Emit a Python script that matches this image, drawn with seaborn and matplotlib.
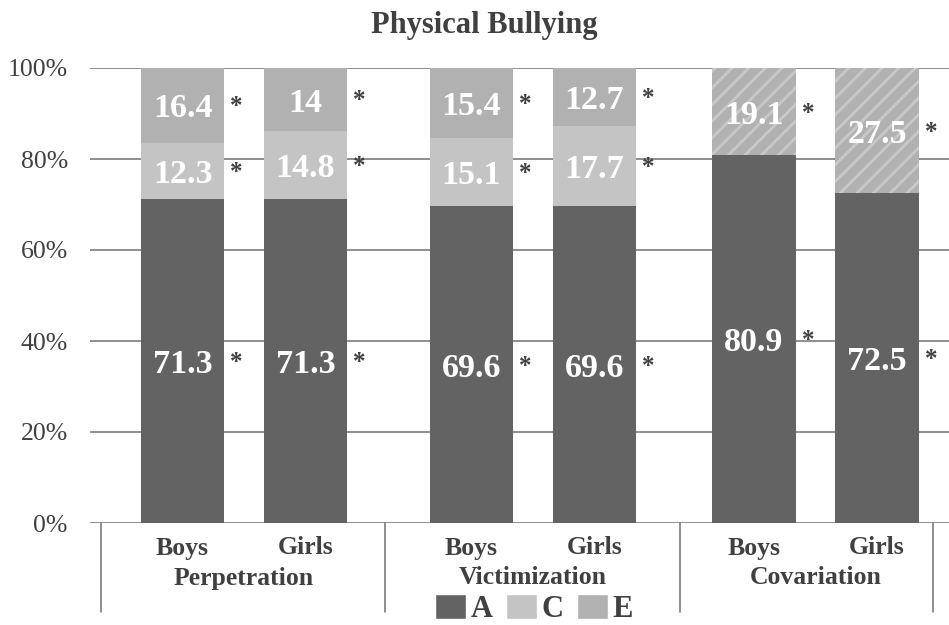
import numpy as np
import pandas as pd
import matplotlib
matplotlib.use("Agg")
import matplotlib.pyplot as plt
from matplotlib.patches import Patch
import seaborn as sns

# Variance components (%) for each group / sex
groups = ["Perpetration", "Victimization", "Covariation"]
sexes = ["Boys", "Girls"]
comp_a = [71.3, 71.3, 69.6, 69.6, 80.9, 72.5]
comp_c = [12.3, 14.8, 15.1, 17.7, 0.0, 0.0]
comp_e = [16.4, 14.0, 15.4, 12.7, 19.1, 27.5]
y_ticks = [0, 20, 40, 60, 80, 100]
tick_labels = ["0%", "20%", "40%", "60%", "80%", "100%"]

sns.set_theme(style="white")
plt.rcParams["font.family"] = ["Liberation Serif", "DejaVu Serif"]
plt.rcParams["hatch.linewidth"] = 2.0

COL_A, COL_C, COL_E = "#636363", "#c4c4c4", "#b1b1b1"
HATCH_COL = "#c8c8c8"
TXT = "#404040"
GRID = "#707070"

W, H = 949, 625
fig = plt.figure(figsize=(W / 100, H / 100), dpi=100)
x0, x1, ybot, ytop = 90, 949, 523, 68
ax = fig.add_axes([x0 / W, 1 - ybot / H, (x1 - x0) / W, (ybot - ytop) / H])

# Layout of the bar positions (axis units = pixels along x)
group_centers = np.array([244.0, 533.0, 815.5])
half_gap = 61.5
pos = np.concatenate([[c - half_gap, c + half_gap] for c in group_centers])
bar_w = 83.5 / (2 * half_gap)

a = np.array(comp_a)
c = np.array(comp_c)
e = np.array(comp_e)
df = pd.DataFrame({"pos": pos, "A": a, "AC": a + c, "ACE": a + c + e})

# Stacked bars: draw cumulative totals from the top layer down
layers = []
for col, colour in [("ACE", COL_E), ("AC", COL_C), ("A", COL_A)]:
    sns.barplot(data=df, x="pos", y=col, native_scale=True, orient="x",
                width=bar_w, color=colour, saturation=1, errorbar=None,
                linewidth=0, ax=ax)
    layers.append(ax.containers[-1])

# Covariation E segments are hatched
for p in list(layers[0].patches)[4:6]:
    p.set_hatch("//")
    p.set_edgecolor(HATCH_COL)
    p.set_linewidth(0)

ax.set_xlim(x0, x1)
ax.set_ylim(0, 100)
ax.set_xlabel("")
ax.set_ylabel("")
ax.set_xticks([])
ax.set_yticks(y_ticks)
ax.set_yticklabels(tick_labels, fontsize=18.5, color=TXT)
ax.tick_params(axis="y", length=0, pad=16)
for s in ax.spines.values():
    s.set_visible(False)
for yv in y_ticks:
    ax.axhline(yv, color=GRID, lw=1.1, zorder=0)

# Value labels and significance stars
def label(xc, y, txt):
    ax.text(xc, y - 0.8, txt, ha="center", va="center", fontsize=24.5,
            fontweight="bold", color="white", zorder=5)
    ax.text(xc + 83.5 / 2 + 12, y - 0.35, "*", ha="center", va="center",
            fontsize=18, fontweight="bold", color=TXT, zorder=5)

for i, xc in enumerate(pos):
    label(xc, a[i] / 2, f"{a[i]:g}")
    if c[i] > 0:
        label(xc, a[i] + c[i] / 2, f"{c[i]:g}")
    label(xc, a[i] + c[i] + e[i] / 2, f"{e[i]:g}")

# Category labels below the axis
def py(pix):
    return (ybot - pix) / (ybot - ytop) * 100

for i, xc in enumerate(pos):
    ax.text(xc, py(548), sexes[i % 2], ha="center", va="center",
            fontsize=18.5, fontweight="bold", color=TXT, clip_on=False)
for g, gc in zip(groups, group_centers):
    ax.text(gc, py(578), g, ha="center", va="center", fontsize=18.5,
            fontweight="bold", color=TXT, clip_on=False)
for sx in [101, 385, 680, 933]:
    ax.plot([sx, sx], [0, py(612)], color=GRID, lw=1.1, clip_on=False)

fig.text(484 / W, 1 - 25 / H, "Physical Bullying", ha="center", va="center",
         fontsize=22, fontweight="bold", color=TXT)

handles = [Patch(facecolor=COL_A, label="A"),
           Patch(facecolor=COL_C, label="C"),
           Patch(facecolor=COL_E, label="E")]
leg = fig.legend(handles=handles, loc="center", ncol=3,
                 bbox_to_anchor=(534 / W, 1 - 609 / H), frameon=False,
                 prop={"size": 22, "weight": "bold"},
                 handlelength=1.0, handleheight=0.9, handletextpad=0.15,
                 columnspacing=0.45, borderpad=0)
for t in leg.get_texts():
    t.set_color(TXT)

fig.savefig("out.png", dpi=100)
